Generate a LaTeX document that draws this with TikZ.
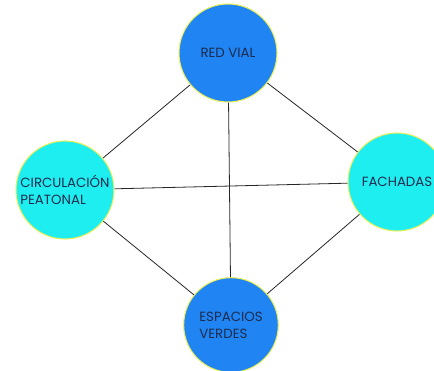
\documentclass[tikz,border=0pt]{standalone}
\usepackage{fontspec}
\setmainfont{Poppins}
\usepackage{xcolor}
\usetikzlibrary{arrows.meta,positioning}
\definecolor{vialblue}{RGB}{32,132,242}
\definecolor{peatcyan}{RGB}{30,238,240}
\definecolor{rimyellow}{RGB}{236,240,90}
\definecolor{labelnavy}{RGB}{28,44,78}

\begin{document}
\begin{tikzpicture}[x=0.75pt,y=-0.75pt]
  \tikzstyle{zone}=[circle,draw=rimyellow,line width=0.8pt,minimum size=73.5pt,inner sep=0pt,
    align=left,text=labelnavy,font=\fontsize{10}{12.8}\selectfont]
  \tikzstyle{link}=[draw=black!85,line width=0.6pt]
  \useasboundingbox (0,0) rectangle (434,370);
  \node[zone,fill=vialblue] (red) at (228,53) {RED VIAL};
  \node[zone,fill=peatcyan] (circ) at (65,190) {CIRCULACIÓN\\PEATONAL};
  \node[zone,fill=peatcyan] (fach) at (397,182) {FACHADAS};
  \node[zone,fill=vialblue,minimum size=71pt] (esp) at (231,325) {ESPACIOS\\VERDES};
  \draw[link] (red) -- (circ);
  \draw[link] (red) -- (fach);
  \draw[link] (red) -- (esp);
  \draw[link] (circ) -- (fach);
  \draw[link] (circ) -- (esp);
  \draw[link] (fach) -- (esp);
\end{tikzpicture}
\end{document}
